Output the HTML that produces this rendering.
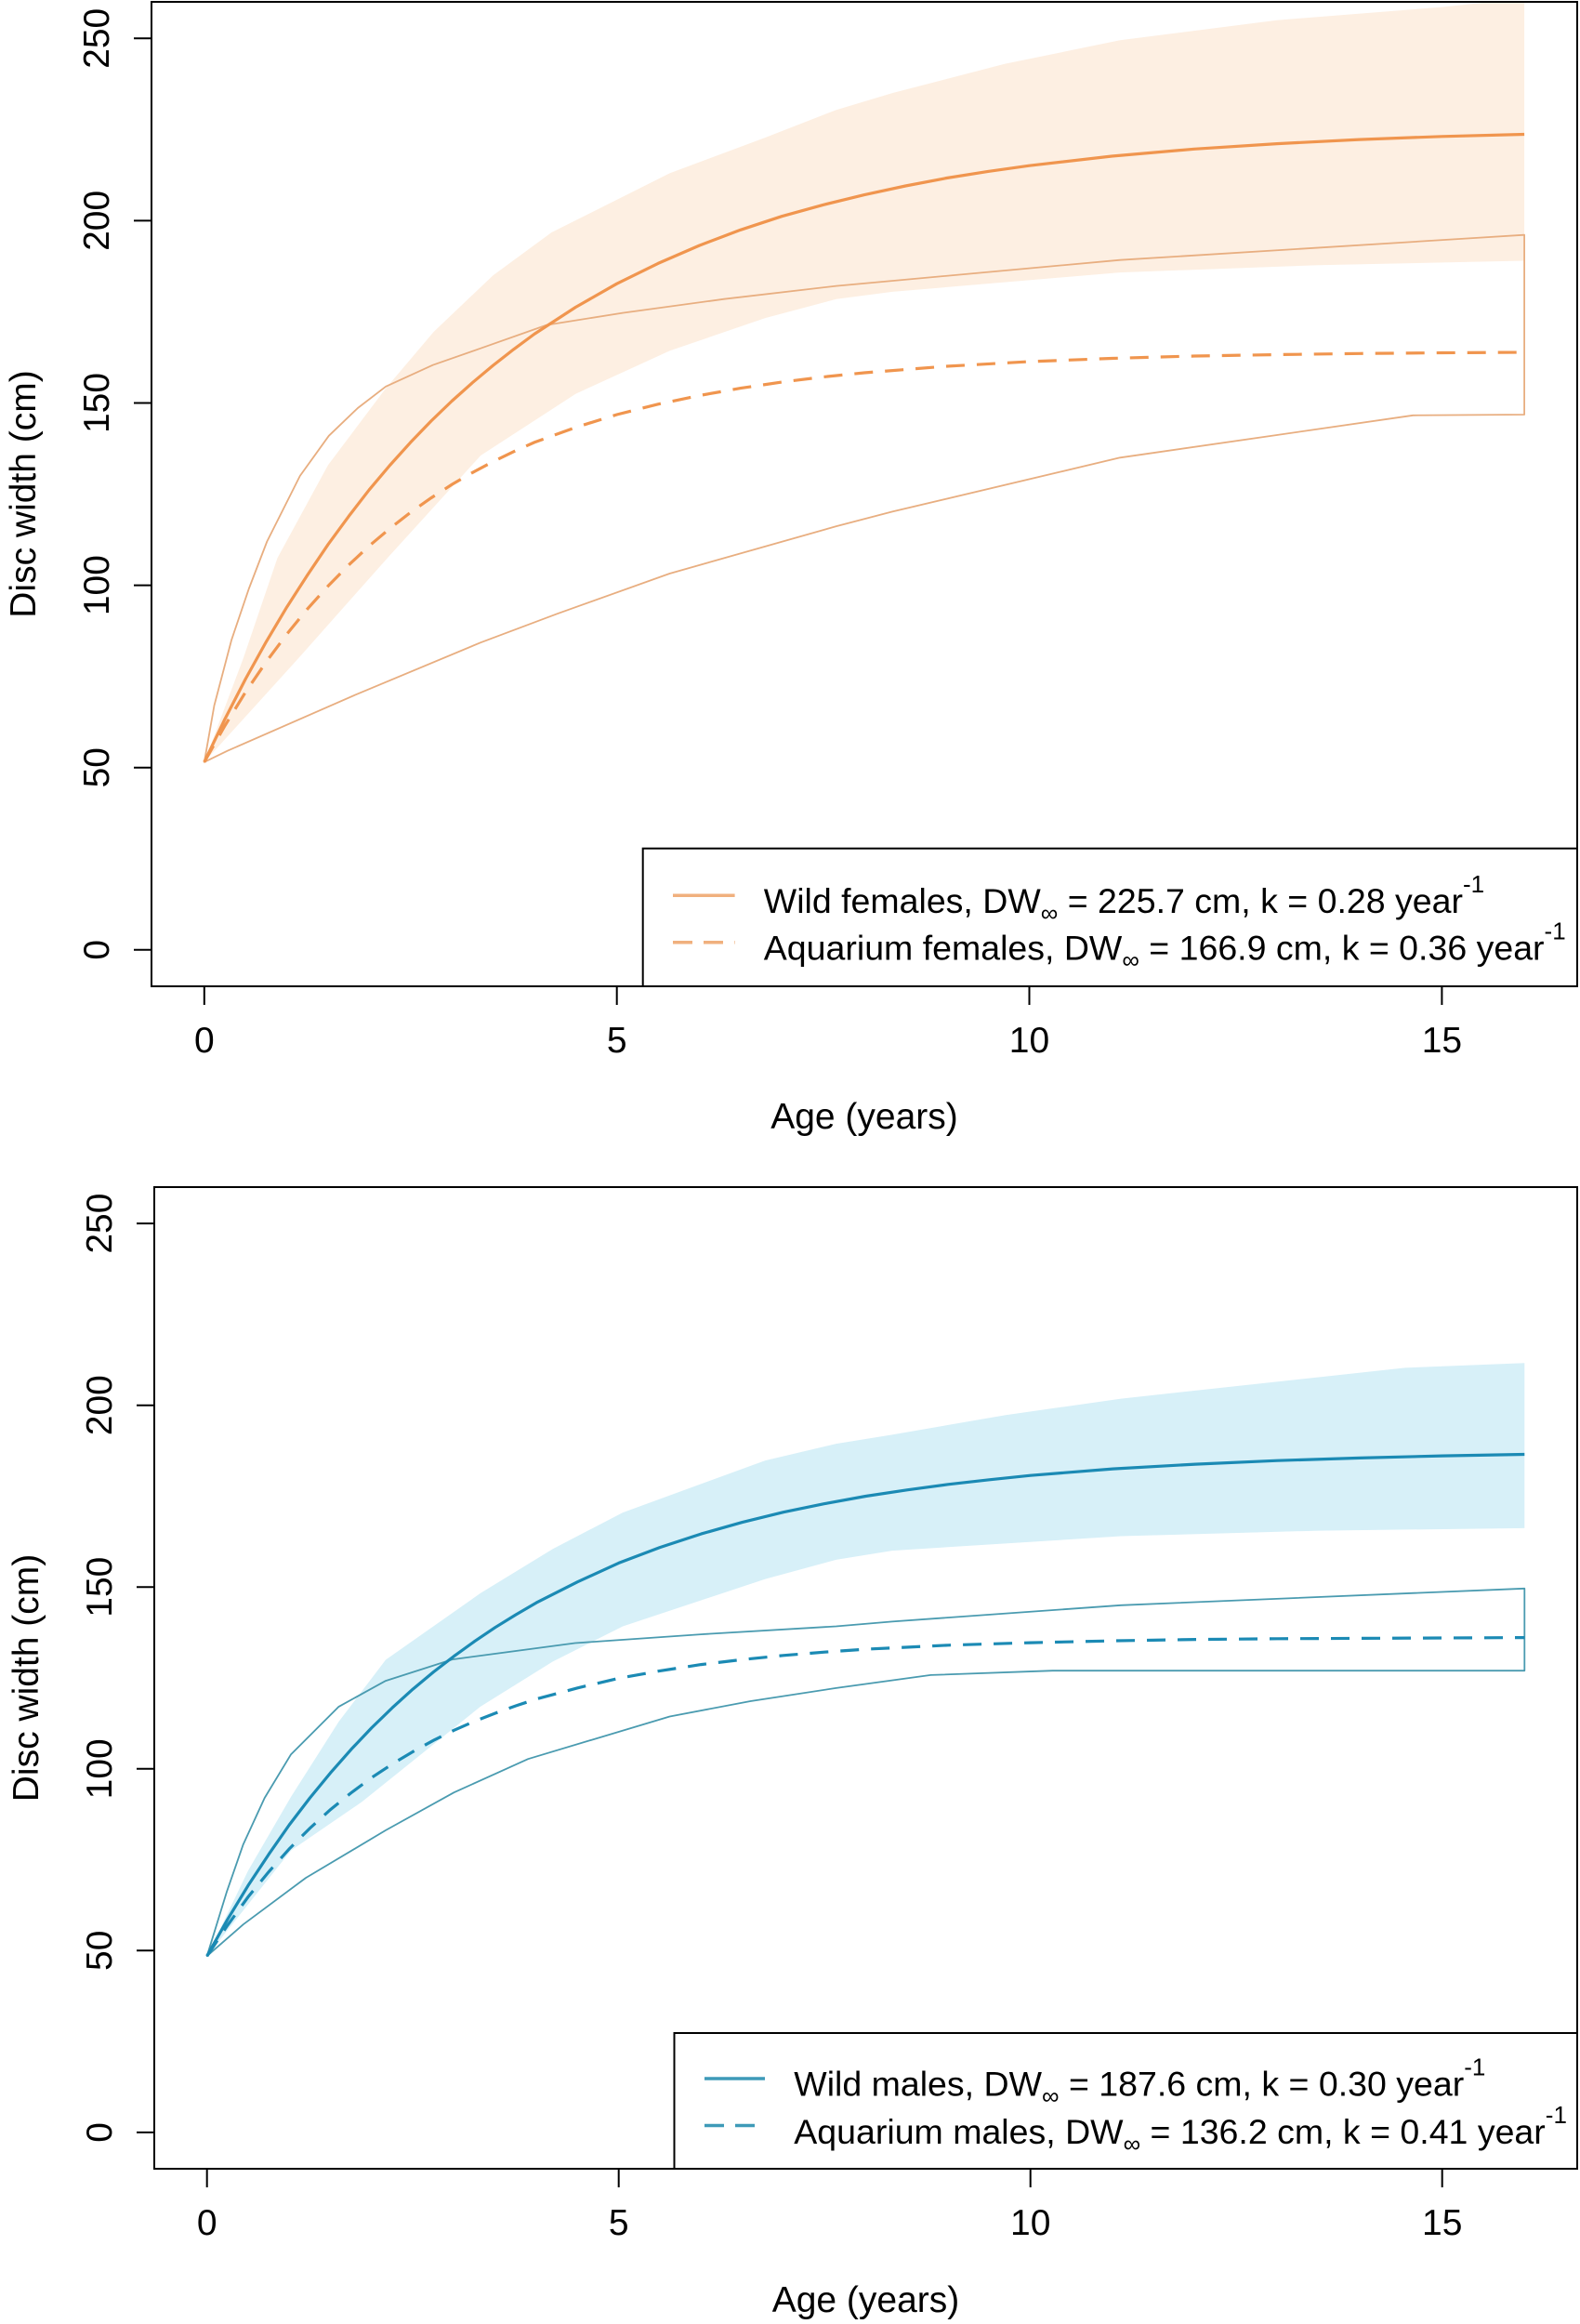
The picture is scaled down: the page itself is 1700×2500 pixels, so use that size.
<!DOCTYPE html>
<html>
<head>
<meta charset="utf-8">
<style>
  html,body{margin:0;padding:0;background:#fff;}
  svg{display:block;}
  text{font-family:"Liberation Sans", Arial, sans-serif;fill:#000;}
</style>
</head>
<body>
<svg width="1700" height="2500" viewBox="0 0 1700 2500" xmlns="http://www.w3.org/2000/svg">
  <defs>
    <clipPath id="ct"><rect x="163" y="2" width="1534" height="1059"/></clipPath>
    <clipPath id="cb"><rect x="166" y="1277" width="1531" height="1056"/></clipPath>
  </defs>
  <rect x="0" y="0" width="1700" height="2500" fill="#fff"/>

  <!-- ================= TOP PANEL ================= -->
  <g clip-path="url(#ct)">
    <polygon fill="#FDEFE2" stroke="none" points="219.8,819.8 262.1,707.3 298.5,600.2 353.0,500.2 415.1,417.8 466.6,357.0 530.5,296.2 593.5,250.0 720.5,186.4 823.4,148.0 899.8,118.2 960.1,100.1 1080.9,68.8 1205.1,43.3 1373.8,21.7 1551.4,7.6 1640.1,-1.8 1640.1,280.5 1418.2,285.2 1205.1,293.1 960.1,313.9 899.8,321.7 823.4,342.1 720.5,377.4 619.3,423.7 517.2,490.0 416.9,600.2 321.9,707.3 219.8,819.8"/>
    <polygon fill="none" stroke="#E8AE80" stroke-width="1.8" stroke-linejoin="round" points="219.8,819.8 230.5,759.0 249.1,688.4 267.7,633.5 287.3,582.5 322.8,511.9 353.8,468.8 384.9,439.0 415.1,415.8 465.7,392.7 517.2,374.7 588.2,349.6 669.9,336.6 779.1,321.7 899.8,307.6 1205.1,279.7 1640.1,252.7 1640.1,446.0 1520.3,446.8 1373.8,468.0 1205.1,492.3 960.1,550.4 899.8,566.1 720.5,617.0 599.7,660.2 517.2,691.2 382.7,747.3 244.7,807.7 219.8,819.8"/>
    <polyline fill="none" stroke="#F0954E" stroke-width="3.2" stroke-linejoin="round" points="219.8,819.8 242.0,773.5 264.2,730.4 286.4,690.4 308.6,653.1 330.8,618.6 353.0,585.7 375.2,555.4 397.3,526.8 419.5,500.5 441.7,475.9 463.9,452.9 486.1,431.5 508.3,411.7 530.5,393.1 552.7,375.8 574.9,359.4 619.3,330.5 663.7,305.2 708.0,283.4 752.4,264.1 796.8,247.3 841.2,232.7 885.6,220.4 930.0,209.6 974.3,200.0 1018.7,191.5 1063.1,184.4 1107.5,178.2 1196.3,168.0 1285.0,160.3 1373.8,154.6 1462.6,150.1 1551.4,146.8 1640.1,144.5"/>
    <polyline fill="none" stroke="#F0954E" stroke-width="3.2" stroke-dasharray="20 13" points="219.8,819.8 242.0,780.6 264.2,744.5 286.4,712.0 308.6,682.2 330.8,655.0 353.0,630.4 375.2,607.8 397.3,587.2 419.5,568.5 441.7,551.2 463.9,535.6 486.1,521.3 508.3,508.4 530.5,496.6 552.7,485.8 574.9,475.9 619.3,459.8 663.7,446.0 708.0,434.8 752.4,425.5 796.8,417.6 841.2,411.0 885.6,405.5 930.0,401.0 1018.7,394.0 1107.5,389.0 1196.3,385.5 1285.0,383.0 1373.8,381.5 1462.6,380.3 1551.4,379.5 1640.1,379.0"/>
  </g>
  <rect x="163" y="2" width="1534" height="1059" fill="none" stroke="#000" stroke-width="2"/>
  <rect x="691.7" y="912.7" width="1005.3" height="148.3" fill="#fff" stroke="#000" stroke-width="2"/>
  <line x1="724" y1="963.3" x2="790.6" y2="963.3" stroke="#F0B07E" stroke-width="3.5"/>
  <line x1="724" y1="1013.8" x2="790.6" y2="1013.8" stroke="#F0B07E" stroke-width="3.5" stroke-dasharray="21 12"/>
  <text x="821.8" y="981.8" font-size="37.5">Wild females, DW<tspan font-size="26" dy="9">∞</tspan><tspan dy="-9"> = 225.7 cm, k = 0.28 year</tspan><tspan font-size="26" dy="-22">-1</tspan></text>
  <text x="821.8" y="1032.4" font-size="37.5">Aquarium females, DW<tspan font-size="26" dy="9">∞</tspan><tspan dy="-9"> = 166.9 cm, k = 0.36 year</tspan><tspan font-size="26" dy="-22">-1</tspan></text>
  <g stroke="#000" stroke-width="2">
    <line x1="144" y1="1021.8" x2="163" y2="1021.8"/>
    <line x1="144" y1="825.7" x2="163" y2="825.7"/>
    <line x1="144" y1="629.6" x2="163" y2="629.6"/>
    <line x1="144" y1="433.5" x2="163" y2="433.5"/>
    <line x1="144" y1="237.4" x2="163" y2="237.4"/>
    <line x1="144" y1="41.3" x2="163" y2="41.3"/>
    <line x1="219.8" y1="1061" x2="219.8" y2="1081"/>
    <line x1="663.7" y1="1061" x2="663.7" y2="1081"/>
    <line x1="1107.5" y1="1061" x2="1107.5" y2="1081"/>
    <line x1="1551.4" y1="1061" x2="1551.4" y2="1081"/>
  </g>
  <g font-size="39" text-anchor="middle">
    <text transform="translate(117,1021.8) rotate(-90)">0</text>
    <text transform="translate(117,825.7) rotate(-90)">50</text>
    <text transform="translate(117,629.6) rotate(-90)">100</text>
    <text transform="translate(117,433.5) rotate(-90)">150</text>
    <text transform="translate(117,237.4) rotate(-90)">200</text>
    <text transform="translate(117,41.3) rotate(-90)">250</text>
    <text x="219.8" y="1132">0</text>
    <text x="663.7" y="1132">5</text>
    <text x="1107.5" y="1132">10</text>
    <text x="1551.4" y="1132">15</text>
    <text x="930" y="1214">Age (years)</text>
    <text transform="translate(38,531.5) rotate(-90)">Disc width (cm)</text>
  </g>

  <!-- ================= BOTTOM PANEL ================= -->
  <g clip-path="url(#cb)">
    <polygon fill="#D7F0F8" stroke="none" points="222.7,2104.2 267.0,2012.3 313.1,1932.9 364.5,1852.0 415.0,1785.5 516.9,1713.9 594.8,1666.2 670.1,1627.1 823.4,1571.1 899.6,1553.1 959.9,1543.4 1082.1,1522.2 1206.2,1504.6 1511.8,1471.4 1640.3,1466.3 1640.3,1643.9 1418.8,1646.6 1206.2,1652.5 959.9,1668.1 899.6,1677.9 823.4,1698.6 670.1,1749.5 594.8,1787.4 516.9,1835.9 389.3,1938.4 313.1,1990.6 222.7,2104.2"/>
    <polygon fill="none" stroke="#4A9BB0" stroke-width="1.8" stroke-linejoin="round" points="222.7,2104.2 244.0,2035.0 261.7,1984.1 284.7,1934.1 313.1,1887.2 364.5,1835.9 415.0,1808.1 486.7,1785.1 618.8,1767.5 754.3,1758.1 899.6,1749.5 959.9,1744.4 1206.2,1726.8 1640.3,1708.8 1640.3,1797.2 1132.6,1797.2 1001.5,1801.9 899.6,1815.9 807.5,1830.0 720.6,1846.5 568.2,1892.2 488.5,1928.2 415.0,1968.9 329.0,2020.1 261.7,2070.2 222.7,2104.2"/>
    <polyline fill="none" stroke="#1B8AB4" stroke-width="3.2" stroke-linejoin="round" points="222.7,2104.2 244.9,2064.7 267.0,2028.3 289.2,1994.7 311.3,1963.0 333.5,1934.0 355.6,1907.1 377.8,1881.9 399.9,1858.6 422.1,1837.1 444.2,1817.1 466.4,1798.6 488.5,1781.6 510.7,1765.6 532.8,1750.7 555.0,1737.0 577.1,1724.1 621.4,1701.7 665.7,1681.4 710.0,1664.6 754.3,1650.1 798.6,1637.6 842.9,1626.7 887.2,1617.6 931.5,1609.5 975.8,1602.8 1020.1,1596.8 1064.4,1591.8 1108.7,1587.2 1197.3,1580.1 1285.9,1575.1 1374.5,1571.2 1463.1,1568.4 1551.7,1566.1 1640.3,1564.5"/>
    <polyline fill="none" stroke="#1B8AB4" stroke-width="3.2" stroke-dasharray="20 13" points="222.7,2104.2 244.9,2071.0 267.0,2040.5 289.2,2013.5 311.3,1988.8 333.5,1966.6 355.6,1946.6 377.8,1928.6 399.9,1912.2 422.1,1897.6 444.2,1884.4 466.4,1872.2 488.5,1861.3 510.7,1851.6 532.8,1843.0 555.0,1835.0 577.1,1827.7 621.4,1815.8 665.7,1805.4 710.0,1797.4 754.3,1790.6 798.6,1785.3 842.9,1780.8 887.2,1777.2 931.5,1774.1 1020.1,1769.8 1108.7,1767.1 1197.3,1765.1 1285.9,1763.6 1374.5,1762.8 1463.1,1762.4 1551.7,1762.0 1640.3,1761.6"/>
  </g>
  <rect x="166" y="1277" width="1531" height="1056" fill="none" stroke="#000" stroke-width="2"/>
  <rect x="725.5" y="2187" width="971.5" height="146" fill="#fff" stroke="#000" stroke-width="2"/>
  <line x1="758" y1="2236" x2="823" y2="2236" stroke="#3E9AB8" stroke-width="3.5"/>
  <line x1="758" y1="2286.5" x2="823" y2="2286.5" stroke="#3E9AB8" stroke-width="3.5" stroke-dasharray="21 12"/>
  <text x="854.3" y="2254.5" font-size="37.5">Wild males, DW<tspan font-size="26" dy="9">∞</tspan><tspan dy="-9"> = 187.6 cm, k = 0.30 year</tspan><tspan font-size="26" dy="-22">-1</tspan></text>
  <text x="854.3" y="2306" font-size="37.5">Aquarium males, DW<tspan font-size="26" dy="9">∞</tspan><tspan dy="-9"> = 136.2 cm, k = 0.41 year</tspan><tspan font-size="26" dy="-22">-1</tspan></text>
  <g stroke="#000" stroke-width="2">
    <line x1="147" y1="2293.9" x2="166" y2="2293.9"/>
    <line x1="147" y1="2098.3" x2="166" y2="2098.3"/>
    <line x1="147" y1="1902.8" x2="166" y2="1902.8"/>
    <line x1="147" y1="1707.2" x2="166" y2="1707.2"/>
    <line x1="147" y1="1511.7" x2="166" y2="1511.7"/>
    <line x1="147" y1="1316.1" x2="166" y2="1316.1"/>
    <line x1="222.7" y1="2333" x2="222.7" y2="2353"/>
    <line x1="665.7" y1="2333" x2="665.7" y2="2353"/>
    <line x1="1108.7" y1="2333" x2="1108.7" y2="2353"/>
    <line x1="1551.7" y1="2333" x2="1551.7" y2="2353"/>
  </g>
  <g font-size="39" text-anchor="middle">
    <text transform="translate(120,2293.9) rotate(-90)">0</text>
    <text transform="translate(120,2098.3) rotate(-90)">50</text>
    <text transform="translate(120,1902.8) rotate(-90)">100</text>
    <text transform="translate(120,1707.2) rotate(-90)">150</text>
    <text transform="translate(120,1511.7) rotate(-90)">200</text>
    <text transform="translate(120,1316.1) rotate(-90)">250</text>
    <text x="222.7" y="2404">0</text>
    <text x="665.7" y="2404">5</text>
    <text x="1108.7" y="2404">10</text>
    <text x="1551.7" y="2404">15</text>
    <text x="931.5" y="2487">Age (years)</text>
    <text transform="translate(41,1805) rotate(-90)">Disc width (cm)</text>
  </g>
</svg>
</body>
</html>
